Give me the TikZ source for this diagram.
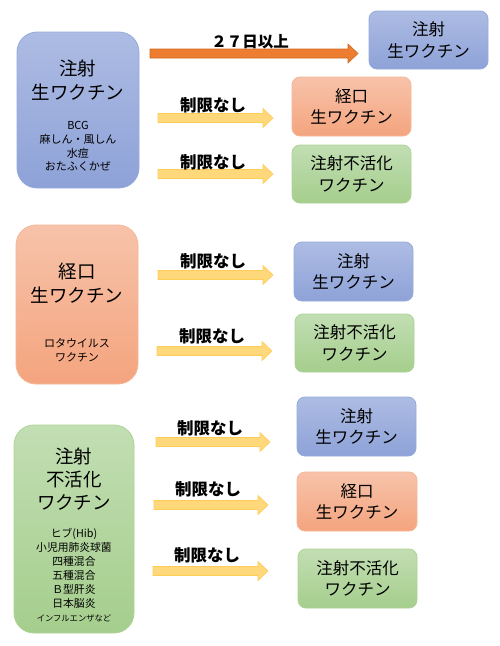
\documentclass[tikz,border=0pt]{standalone}
\usepackage{fontspec}
\setmainfont{Noto Sans CJK JP}
\usetikzlibrary{calc}
\definecolor{bluetop}{HTML}{ADBCE3}
\definecolor{bluebot}{HTML}{8EA2D8}
\definecolor{blueline}{HTML}{94ABDC}
\definecolor{orgtop}{HTML}{F7C3AA}
\definecolor{orgbot}{HTML}{F4A47E}
\definecolor{orgline}{HTML}{F4B898}
\definecolor{grntop}{HTML}{C2DEB3}
\definecolor{grnbot}{HTML}{A5CE8D}
\definecolor{grnline}{HTML}{ADD396}
\definecolor{yarrfill}{HTML}{FFD87C}
\definecolor{yarrline}{HTML}{FFCC55}
\definecolor{oarrfill}{HTML}{ED7D31}
\definecolor{oarrline}{HTML}{D2691F}
\newcommand\fatarr[3]{%
  \filldraw[#1] ($(#2)+(0,-4.5)$) -- ($(#3)+(-10,-4.5)$) -- ($(#3)+(-10,-9.5)$) -- (#3)
    -- ($(#3)+(-10,9.5)$) -- ($(#3)+(-10,4.5)$) -- ($(#2)+(0,4.5)$) -- cycle;}
\begin{document}
\begin{tikzpicture}[x=1pt,y=-1pt,
  bluefill/.style={top color=bluetop,bottom color=bluebot,draw=blueline},
  orgfill/.style={top color=orgtop,bottom color=orgbot,draw=orgline},
  grnfill/.style={top color=grntop,bottom color=grnbot,draw=grnline},
  bigbox/.style={rounded corners=20pt,line width=0.8pt,inner sep=0pt},
  smallbox/.style={rounded corners=8pt,line width=0.8pt,inner sep=0pt,align=center,
    minimum width=119pt,minimum height=58pt,font=\fontsize{16.5}{21.5}\selectfont},
  titletext/.style={align=center,inner sep=0pt,font=\fontsize{18.5}{24}\selectfont},
  listtext/.style={align=center,inner sep=0pt,font=\fontsize{11}{13.8}\selectfont},
  lbl/.style={inner sep=0pt,font=\fontsize{16.5}{18}\selectfont\bfseries},
  yarr/.style={fill=yarrfill,draw=yarrline,line width=0.6pt},
  oarr/.style={fill=oarrfill,draw=oarrline,line width=0.6pt}]
\path[fill=white] (0,0) rectangle (500,646);
\useasboundingbox (0,0) rectangle (500,646);

% ---- section 1
\node[bigbox,bluefill,minimum width=122pt,minimum height=156pt] (L1) at (78,110) {};
\node[titletext] (L1t) at (78,80) {注射\\生ワクチン};
\node[listtext] (L1l) at (78,146.5) {BCG\\麻しん・風しん\\水痘\\おたふくかぜ};

\node[smallbox,bluefill] (R1) at (428.5,40) {注射\\生ワクチン};
\node[smallbox,orgfill,minimum height=59pt] (R2) at (351.5,106.5) {経口\\生ワクチン};
\node[smallbox,grnfill] (R3) at (351.5,174) {注射不活化\\ワクチン};

\coordinate (a0s) at (150,53.5); \coordinate (a0e) at (358,53.5);
\fatarr{oarr}{a0s}{a0e}
\node[lbl,font=\fontsize{15.5}{18}\selectfont\bfseries] (a0l) at (250,41.7) {２７日以上};

\coordinate (a1s) at (158,118); \coordinate (a1e) at (273,118);
\fatarr{yarr}{a1s}{a1e}
\node[lbl] (a1l) at (213,105) {制限なし};
\coordinate (a2s) at (158,174); \coordinate (a2e) at (273,174);
\fatarr{yarr}{a2s}{a2e}
\node[lbl] (a2l) at (213,162) {制限なし};

% ---- section 2
\node[bigbox,orgfill,minimum width=122pt,minimum height=159pt] (L2) at (77,304.5) {};
\node[titletext] (L2t) at (77,283.5) {経口\\生ワクチン};
\node[listtext] (L2l) at (77,350.5) {ロタウイルス\\ワクチン};

\node[smallbox,bluefill,minimum height=59pt] (M1) at (353.5,271.5) {注射\\生ワクチン};
\node[smallbox,grnfill] (M2) at (354.5,343) {注射不活化\\ワクチン};

\coordinate (a3s) at (158,275); \coordinate (a3e) at (273,275);
\fatarr{yarr}{a3s}{a3e}
\node[lbl] (a3l) at (213,261) {制限なし};
\coordinate (a4s) at (157,351); \coordinate (a4e) at (272,351);
\fatarr{yarr}{a4s}{a4e}
\node[lbl] (a4l) at (212,336) {制限なし};

% ---- section 3
\node[bigbox,grnfill,minimum width=120pt,minimum height=208pt] (L3) at (74,529) {};
\node[titletext,font=\fontsize{18.5}{23}\selectfont] (L3t) at (74,479) {注射\\不活化\\ワクチン};
\node[listtext,font=\fontsize{10.8}{14}\selectfont] (L3l) at (74,575) {ヒブ(Hib)\\小児用肺炎球菌\\四種混合\\五種混合\\Ｂ型肝炎\\日本脳炎\\{\fontsize{8.3}{14}\selectfont インフルエンザなど}};

\node[smallbox,bluefill,minimum height=59pt] (B1) at (356.5,426.5) {注射\\生ワクチン};
\node[smallbox,orgfill,minimum height=59pt,minimum width=120pt] (B2) at (357,501.5) {経口\\生ワクチン};
\node[smallbox,grnfill,minimum height=59pt] (B3) at (357.5,578.5) {注射不活化\\ワクチン};

\coordinate (a5s) at (156,442); \coordinate (a5e) at (270,442);
\fatarr{yarr}{a5s}{a5e}
\node[lbl] (a5l) at (210,428) {制限なし};
\coordinate (a6s) at (154,505); \coordinate (a6e) at (268,505);
\fatarr{yarr}{a6s}{a6e}
\node[lbl] (a6l) at (208,489) {制限なし};
\coordinate (a7s) at (153,571); \coordinate (a7e) at (268,571);
\fatarr{yarr}{a7s}{a7e}
\node[lbl] (a7l) at (207,555) {制限なし};
\end{tikzpicture}
\end{document}
